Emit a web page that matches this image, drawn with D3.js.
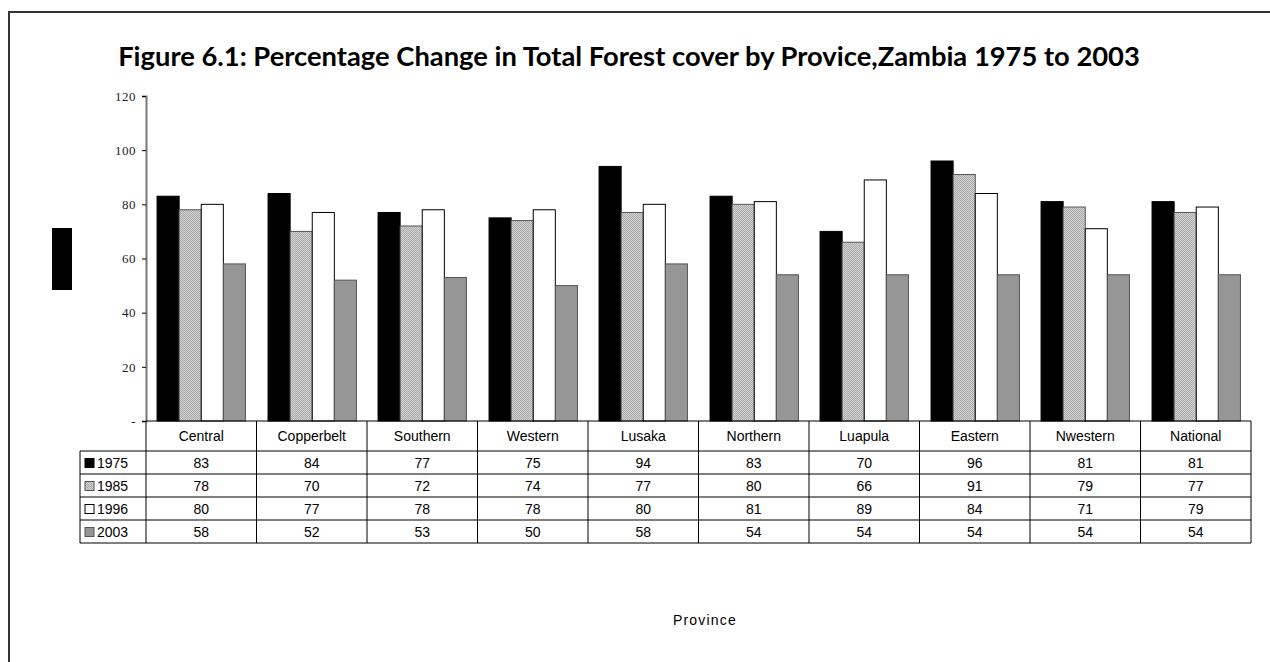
<!DOCTYPE html>
<html>
<head>
<meta charset="utf-8">
<script src="https://cdn.jsdelivr.net/npm/d3@7"></script>
<style>
  html, body { margin: 0; padding: 0; background: #fff; }
  svg { display: block; }
</style>
</head>
<body>
<div id="chart"></div>
<script>
// Chart data
const provinces = ['Central', 'Copperbelt', 'Southern', 'Western', 'Lusaka', 'Northern', 'Luapula', 'Eastern', 'Nwestern', 'National'];
const years = ['1975', '1985', '1996', '2003'];
const v1975 = [83, 84, 77, 75, 94, 83, 70, 96, 81, 81];
const v1985 = [78, 70, 72, 74, 77, 80, 66, 91, 79, 77];
const v1996 = [80, 77, 78, 78, 80, 81, 89, 84, 71, 79];
const v2003 = [58, 52, 53, 50, 58, 54, 54, 54, 54, 54];
const yTicks = [0, 20, 40, 60, 80, 100, 120];

const seriesValues = [v1975, v1985, v1996, v2003];

const width = 1270;
const height = 662;
const plot = { left: 146, right: 1251, top: 96, bottom: 421 };
const rowH = 23;
const headerH = 30;

const svg = d3.select('#chart').append('svg').attr('width', width).attr('height', height);

// fine dotted fill for 1985
const defs = svg.append('defs');
const pat = defs.append('pattern')
  .attr('id', 'hatch')
  .attr('patternUnits', 'userSpaceOnUse')
  .attr('width', 2)
  .attr('height', 2);
pat.append('rect').attr('width', 2).attr('height', 2).attr('fill', '#d2d2d2');
pat.append('rect').attr('width', 1).attr('height', 1).attr('fill', '#ababab');
pat.append('rect').attr('x', 1).attr('y', 1).attr('width', 1).attr('height', 1).attr('fill', '#ababab');

const fills = ['#000000', 'url(#hatch)', '#ffffff', '#969696'];
const strokes = ['#000000', '#555555', '#000000', '#555555'];

// outer frame (only left and top edges visible)
svg.append('path')
  .attr('d', `M9,${height} L9,12 L${width},12`)
  .attr('fill', 'none')
  .attr('stroke', '#333')
  .attr('stroke-width', 2);

// title, fitted to the reference width
const title = svg.append('text')
  .attr('x', 629)
  .attr('y', 66)
  .attr('text-anchor', 'middle')
  .style('font-family', 'Lato, "Noto Sans", sans-serif')
  .style('font-weight', 'bold')
  .style('font-size', '22px')
  .text('Figure 6.1: Percentage Change in Total Forest cover by Provice,Zambia 1975 to 2003');
const tw = title.node().getComputedTextLength();
title.style('font-size', `${(22 * 1022 / tw).toFixed(2)}px`);

const x = d3.scaleBand().domain(provinces).range([plot.left, plot.right]).paddingInner(0).paddingOuter(0);
const xs = d3.scaleBand().domain(years).range([0, x.bandwidth()]).paddingInner(0).paddingOuter(0.5);
const y = d3.scaleLinear().domain([0, 120]).range([plot.bottom, plot.top]);

// y axis
const yAxis = svg.append('g')
  .attr('transform', `translate(${plot.left},0)`)
  .call(d3.axisLeft(y).tickValues(yTicks).tickSize(4).tickFormat((d) => (d === 0 ? '-' : d)));
yAxis.select('.domain').attr('stroke', '#777').attr('stroke-width', 2);
yAxis.selectAll('.tick line').attr('stroke', '#000');
yAxis.selectAll('text')
  .attr('x', -10)
  .style('font-family', '"Liberation Serif", "DejaVu Serif", serif')
  .style('font-size', '13px')
  .style('letter-spacing', '0.5px')
  .attr('fill', '#222');

// bars (group offsets rounded so the dot pattern stays pixel-aligned)
const groups = svg.append('g')
  .selectAll('g')
  .data(provinces)
  .join('g')
  .attr('transform', (d) => `translate(${Math.round(x(d))},0)`);

groups.selectAll('rect')
  .data((p, i) => years.map((yr, k) => ({ yr, k, value: seriesValues[k][i] })))
  .join('rect')
  .attr('x', (d) => xs(d.yr))
  .attr('y', (d) => y(d.value))
  .attr('width', xs.bandwidth())
  .attr('height', (d) => y(0) - y(d.value))
  .attr('fill', (d) => fills[d.k])
  .attr('stroke', (d) => strokes[d.k])
  .attr('stroke-width', 1);

// axis-title placeholder block (rendered as solid black in the source)
svg.append('rect')
  .attr('x', 52).attr('y', 228).attr('width', 20).attr('height', 62)
  .attr('fill', '#000');

// data table
const table = svg.append('g')
  .style('font-family', '"Liberation Sans", Arial, sans-serif')
  .style('font-size', '14px');
const tableTop = plot.bottom;
const headerBottom = tableTop + headerH;
const tableBottom = headerBottom + rowH * years.length;
const tableLeft = 80;

const line = (x1, y1, x2, y2) => table.append('line')
  .attr('x1', x1).attr('y1', y1).attr('x2', x2).attr('y2', y2)
  .attr('stroke', '#000').attr('stroke-width', 1);

line(plot.left, tableTop, plot.right, tableTop);
line(tableLeft, headerBottom, plot.right, headerBottom);
years.forEach((yr, k) => line(tableLeft, headerBottom + rowH * (k + 1), plot.right, headerBottom + rowH * (k + 1)));
line(tableLeft, headerBottom, tableLeft, tableBottom);
provinces.forEach((p) => line(x(p), tableTop, x(p), tableBottom));
line(plot.right, tableTop, plot.right, tableBottom);

table.selectAll('.hdr')
  .data(provinces)
  .join('text')
  .attr('class', 'hdr')
  .attr('x', (d) => x(d) + x.bandwidth() / 2)
  .attr('y', tableTop + headerH / 2 + 5)
  .attr('text-anchor', 'middle')
  .attr('fill', '#000')
  .text((d) => d);

years.forEach((yr, k) => {
  const cy = headerBottom + rowH * k + rowH / 2;
  table.append('rect')
    .attr('x', 85).attr('y', cy - 4).attr('width', 9).attr('height', 9)
    .attr('fill', fills[k]).attr('stroke', strokes[k]).attr('stroke-width', 1);
  table.append('text')
    .attr('x', 97).attr('y', cy + 5)
    .attr('fill', '#000')
    .text(yr);
  table.selectAll(`.v${yr}`)
    .data(seriesValues[k])
    .join('text')
    .attr('class', `v${yr}`)
    .attr('x', (d, i) => x(provinces[i]) + x.bandwidth() / 2)
    .attr('y', cy + 5)
    .attr('text-anchor', 'middle')
    .attr('fill', '#000')
    .text((d) => d);
});

// x axis title
svg.append('text')
  .attr('x', 705)
  .attr('y', 625)
  .attr('text-anchor', 'middle')
  .style('font-family', '"Liberation Sans", Arial, sans-serif')
  .style('font-size', '14px')
  .style('letter-spacing', '1.2px')
  .text('Province');
</script>
</body>
</html>
